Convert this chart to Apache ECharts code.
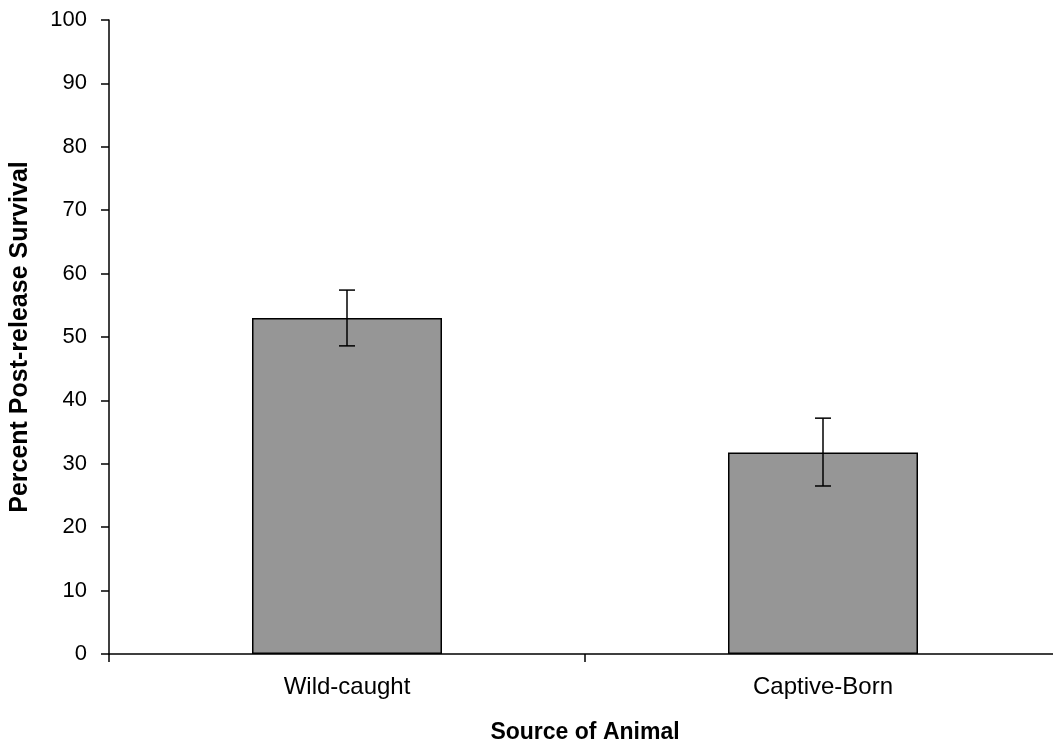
<!DOCTYPE html>
<html>
<head>
<meta charset="utf-8">
<script src="https://cdn.jsdelivr.net/npm/echarts@6/dist/echarts.min.js"></script>
<style>html,body{margin:0;padding:0;background:#fff}#c{width:1053px;height:753px}</style>
</head>
<body>
<div id="c"></div>
<script>
var categories = ['Wild-caught', 'Captive-Born'];
var survival = [53.0, 31.8];
var errLow = [48.6, 26.5];
var errHigh = [57.4, 37.2];
var yTicks = [0, 10, 20, 30, 40, 50, 60, 70, 80, 90, 100];

var chart = echarts.init(document.getElementById('c'));
var font = 'Liberation Sans, Arial, sans-serif';
chart.setOption({
  animation: false,
  backgroundColor: '#fff',
  grid: { left: 109, width: 952, top: 20, bottom: 99, containLabel: false, outerBoundsMode: 'none' },
  xAxis: {
    type: 'category',
    data: categories,
    name: 'Source of Animal',
    nameLocation: 'middle',
    nameGap: 67,
    nameTextStyle: { fontFamily: font, fontSize: 23, fontWeight: 'bold', color: '#000' },
    axisLine: { lineStyle: { color: '#000', width: 1.5 } },
    axisTick: { show: true, length: 8, lineStyle: { color: '#000', width: 1.5 } },
    axisLabel: { fontFamily: font, fontSize: 24, color: '#000', margin: 21 }
  },
  yAxis: {
    type: 'value',
    min: 0, max: 100, interval: 10,
    name: 'Percent Post-release Survival',
    nameLocation: 'middle',
    nameGap: 76,
    nameTextStyle: { fontFamily: font, fontSize: 25, fontWeight: 'bold', color: '#000' },
    splitLine: { show: false },
    axisLine: { show: true, lineStyle: { color: '#000', width: 1.5 } },
    axisTick: { show: true, length: 8, lineStyle: { color: '#000', width: 1.5 } },
    axisLabel: {
      fontFamily: font, fontSize: 22, color: '#000', margin: 22,
      formatter: function (v) { return yTicks.indexOf(v) >= 0 ? String(v) : ''; }
    }
  },
  series: [
    {
      type: 'bar',
      data: survival,
      barWidth: 190,
      itemStyle: { color: '#969696', borderColor: '#000', borderWidth: 1.5 }
    },
    {
      type: 'custom',
      data: categories.map(function (c, i) { return [i, errLow[i], errHigh[i]]; }),
      z: 10,
      renderItem: function (params, api) {
        var lo = api.coord([api.value(0), api.value(1)]);
        var hi = api.coord([api.value(0), api.value(2)]);
        var hw = 8;
        var st = { stroke: '#000', lineWidth: 1.5 };
        return {
          type: 'group',
          children: [
            { type: 'line', shape: { x1: hi[0], y1: hi[1], x2: lo[0], y2: lo[1] }, style: st },
            { type: 'line', shape: { x1: hi[0] - hw, y1: hi[1], x2: hi[0] + hw, y2: hi[1] }, style: st },
            { type: 'line', shape: { x1: lo[0] - hw, y1: lo[1], x2: lo[0] + hw, y2: lo[1] }, style: st }
          ]
        };
      }
    }
  ]
});
</script>
</body>
</html>
